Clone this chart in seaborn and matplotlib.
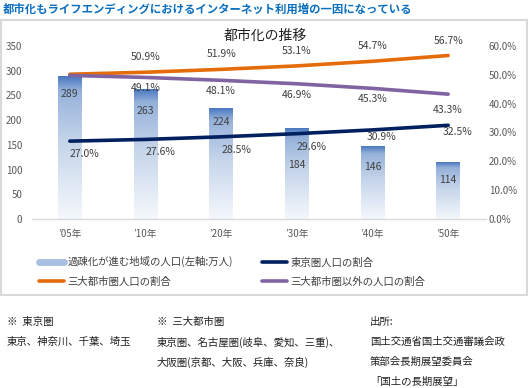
import numpy as np
import pandas as pd
import seaborn as sns
import matplotlib.pyplot as plt
from matplotlib.colors import LinearSegmentedColormap
from matplotlib.lines import Line2D
from matplotlib.patches import Rectangle

# data
years = ['’05年', '’10年', '’20年', '’30年', '’40年', '’50年']
depop = [289, 263, 224, 184, 146, 114]            # 過疎化が進む地域の人口 (万人)
tokyo_share = [27.0, 27.6, 28.5, 29.6, 30.9, 32.5]
big3_share = [50.2, 50.9, 51.9, 53.1, 54.7, 56.7]
other_share = [49.8, 49.1, 48.1, 46.9, 45.3, 43.3]

# label nudges (pixels below bar top), purely cosmetic
bar_label_dy = [18, 22, 14, 37, 20, 17]

sns.set_theme(style='white')
plt.rcParams['font.family'] = ['Noto Sans CJK JP', 'DejaVu Sans']

W, H = 530, 388
fig = plt.figure(figsize=(W / 100, H / 100), dpi=100)


def fx(px):
    return px / W


def fy(py):
    return 1 - py / H


ax = fig.add_axes([fx(32), fy(219), fx(486) - fx(32), fy(46) - fy(219)])

df = pd.DataFrame({'year': years, 'pop': depop})
sns.barplot(data=df, x='year', y='pop', ax=ax, width=0.31, color='#4472c4')

# vertical gradient inside each bar
cmap = LinearSegmentedColormap.from_list(
    'fade', [(0, '#f5f8fc'), (0.55, '#c4d4ea'), (0.9, '#95b1da'), (1, '#4a78c0')])
grad = np.linspace(0, 1, 256).reshape(-1, 1)
for p in ax.patches:
    x0, w, h = p.get_x(), p.get_width(), p.get_height()
    ax.imshow(grad, cmap=cmap, origin='lower', aspect='auto',
              extent=[x0, x0 + w, 0, h], zorder=p.get_zorder())
    p.set_facecolor('none')
    p.set_edgecolor('none')

ax.set_xlim(-0.5, 5.5)
ax.set_ylim(0, 350)
ax.set_yticks(range(0, 351, 50))
ax.set_xlabel('')
ax.set_ylabel('')
ax.tick_params(axis='both', length=0, labelsize=7, colors='#595959')
ax.tick_params(axis='x', pad=7)
ax.tick_params(axis='y', pad=7)
for s in ['top', 'right', 'left']:
    ax.spines[s].set_visible(False)
ax.spines['bottom'].set_color('#d9d9d9')
ax.spines['bottom'].set_linewidth(1)

for i, v in enumerate(depop):
    ax.annotate(str(v), (i, v), xytext=(0, -bar_label_dy[i] * 0.72),
                textcoords='offset points', ha='center', va='center',
                fontsize=7.5, color='#404040')

ax2 = ax.twinx()
xs = np.arange(len(years))
sns.lineplot(x=xs, y=tokyo_share, ax=ax2, color='#002060', lw=2.6)
sns.lineplot(x=xs, y=big3_share, ax=ax2, color='#e46c0a', lw=2.6)
sns.lineplot(x=xs, y=other_share, ax=ax2, color='#8064a2', lw=2.6)
ax2.set_ylim(0, 60)
ax2.set_yticks(range(0, 61, 10))
ax2.set_yticklabels([f'{t:.1f}%' for t in range(0, 61, 10)])
ax2.tick_params(axis='y', length=0, labelsize=7, colors='#595959', pad=2)
for s in ['top', 'right', 'left', 'bottom']:
    ax2.spines[s].set_visible(False)

for i in range(1, len(years)):
    ax2.annotate(f'{big3_share[i]:.1f}%', (i, big3_share[i]), xytext=(0, 15 * 0.72),
                 textcoords='offset points', ha='center', va='center',
                 fontsize=7.5, color='#404040')
    dy = 16 if i == len(years) - 1 else 11
    ax2.annotate(f'{other_share[i]:.1f}%', (i, other_share[i]), xytext=(0, -dy * 0.72),
                 textcoords='offset points', ha='center', va='center',
                 fontsize=7.5, color='#404040')
for i, v in enumerate(tokyo_share):
    dy = 13 if i < 4 else 7
    dx = 15 if i < 4 else 9
    ax2.annotate(f'{v:.1f}%', (i, v), xytext=(dx * 0.72, -dy * 0.72),
                 textcoords='offset points', ha='center', va='center',
                 fontsize=7.5, color='#404040')

fig.text(fx(265), fy(36), '都市化の推移', ha='center', va='center',
         fontsize=10, color='#202020')

# heading
fig.text(fx(3), fy(9), '都市化もライフエンディングにおけるインターネット利用増の一因になっている',
         ha='left', va='center', fontsize=8.2, fontweight='bold', color='#0a6fc0')

# chart frame
fig.patches.append(Rectangle((fx(1), fy(295)), fx(527) - fx(1), fy(20) - fy(295),
                             transform=fig.transFigure, fill=False,
                             edgecolor='#d9d9d9', lw=1.5))

handles = [
    Line2D([], [], color='#a9c0e2', lw=5),
    Line2D([], [], color='#e46c0a', lw=2.6),
    Line2D([], [], color='#002060', lw=2.6),
    Line2D([], [], color='#8064a2', lw=2.6),
]
labels = ['過疎化が進む地域の人口(左軸:万人)', '三大都市圏人口の割合',
          '東京圏人口の割合', '三大都市圏以外の人口の割合']
fig.legend(handles, labels, ncol=2, loc='upper left',
           bbox_to_anchor=(fx(34), fy(251)), frameon=False, fontsize=7.5,
           handlelength=2.4, handletextpad=0.3, columnspacing=2.8,
           labelspacing=0.85, labelcolor='#404040', borderpad=0)

# footnotes
notes = [
    (7, ['※  東京圏', '東京、神奈川、千葉、埼玉']),
    (157, ['※  三大都市圏', '東京圏、名古屋圏(岐阜、愛知、三重)、', '大阪圏(京都、大阪、兵庫、奈良)']),
    (370, ['出所:', '国土交通省国土交通審議会政', '策部会長期展望委員会', '「国土の長期展望」']),
]
for x, lines in notes:
    for k, t in enumerate(lines):
        fig.text(fx(x), fy(322 + 20 * k), t, ha='left', va='center',
                 fontsize=7.5, color='#202020')

fig.savefig('out.png', dpi=100)
